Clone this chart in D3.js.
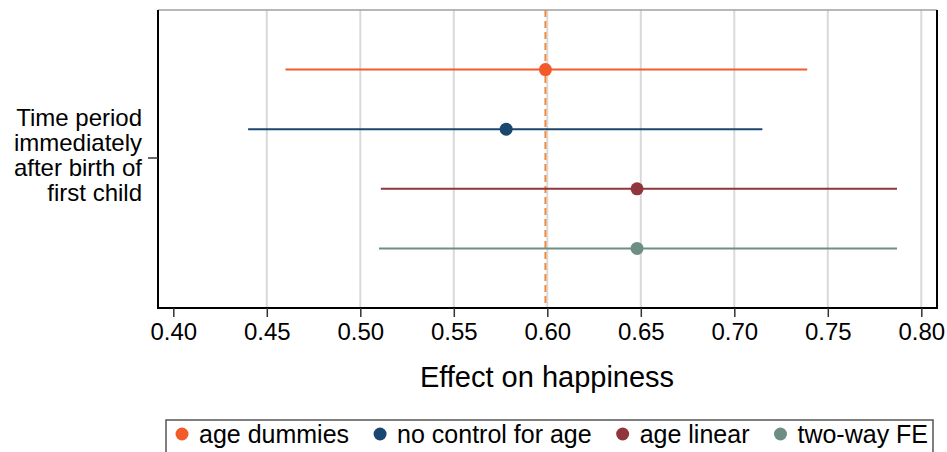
<!DOCTYPE html>
<html>
<head>
<meta charset="utf-8">
<script src="https://cdn.jsdelivr.net/npm/d3@7"></script>
<style>
  html, body { margin: 0; padding: 0; background: #fff; }
  svg { display: block; font-family: "Liberation Sans", Arial, Helvetica, sans-serif; }
</style>
</head>
<body>
<svg id="chart" width="947" height="452"></svg>
<script>
// Estimates with confidence intervals for each model specification
const seriesNames = ["age dummies", "no control for age", "age linear", "two-way FE"];
const estimates   = [0.599, 0.578, 0.648, 0.648];
const lowerBounds = [0.460, 0.440, 0.511, 0.510];
const upperBounds = [0.739, 0.715, 0.787, 0.787];
const seriesColors = ["#f25a2a", "#1a476f", "#90353b", "#6e8e84"];
const xTickValues = [0.40, 0.45, 0.50, 0.55, 0.60, 0.65, 0.70, 0.75, 0.80];
const yLabelLines = ["Time period", "immediately", "after birth of", "first child"];
const xTitle = "Effect on happiness";
const refValue = estimates[0];

const svg = d3.select("#chart");

// plot frame
const frame = { left: 158, right: 937, top: 10, bottom: 308 };

const x = d3.scaleLinear().domain([0.40, 0.80]).range([173.3, 921.3]);
const y = d3.scalePoint().domain(seriesNames).range([frame.top, frame.bottom]).padding(1);

// gridlines (none at the first tick, which sits next to the axis)
svg.append("g")
  .selectAll("line")
  .data(xTickValues.slice(1))
  .join("line")
  .attr("x1", d => x(d)).attr("x2", d => x(d))
  .attr("y1", frame.top).attr("y2", frame.bottom)
  .attr("stroke", "#d9d9d9")
  .attr("stroke-width", 2);

// reference line at the baseline estimate
svg.append("line")
  .attr("x1", x(refValue)).attr("x2", x(refValue))
  .attr("y1", frame.top).attr("y2", frame.bottom)
  .attr("stroke", "#f08a3c")
  .attr("stroke-width", 2)
  .attr("stroke-dasharray", "7,4");

// confidence intervals
svg.append("g")
  .selectAll("line")
  .data(seriesNames)
  .join("line")
  .attr("x1", (d, i) => x(lowerBounds[i]))
  .attr("x2", (d, i) => x(upperBounds[i]))
  .attr("y1", d => y(d)).attr("y2", d => y(d))
  .attr("stroke", (d, i) => seriesColors[i])
  .attr("stroke-width", 2);

// point estimates
svg.append("g")
  .selectAll("circle")
  .data(seriesNames)
  .join("circle")
  .attr("cx", (d, i) => x(estimates[i]))
  .attr("cy", d => y(d))
  .attr("r", 6.5)
  .attr("fill", (d, i) => seriesColors[i]);

// frame edges
svg.append("line").attr("x1", frame.left).attr("x2", frame.right)
  .attr("y1", frame.top).attr("y2", frame.top)
  .attr("stroke", "#a0a0a0").attr("stroke-width", 1.5);
svg.append("path")
  .attr("d", `M${frame.left},${frame.top}V${frame.bottom}H${frame.right}V${frame.top}`)
  .attr("fill", "none").attr("stroke", "#000").attr("stroke-width", 2);

// x axis
const xAxis = d3.axisBottom(x)
  .tickValues(xTickValues)
  .tickFormat(d3.format(".2f"))
  .tickSize(9)
  .tickPadding(6);
const gx = svg.append("g")
  .attr("transform", `translate(0,${frame.bottom})`)
  .call(xAxis);
gx.select(".domain").remove();
gx.selectAll(".tick line").attr("stroke", "#333").attr("stroke-width", 1.5);
gx.selectAll(".tick text")
  .attr("font-size", 24)
  .attr("fill", "#000")
  .attr("font-family", "Liberation Sans, Arial, sans-serif");

// y tick at the category centre
const yMid = 158;
svg.append("line")
  .attr("x1", frame.left - 10).attr("x2", frame.left)
  .attr("y1", yMid).attr("y2", yMid)
  .attr("stroke", "#333").attr("stroke-width", 1.5);

const yLab = svg.append("text")
  .attr("text-anchor", "end")
  .attr("font-size", 24)
  .attr("fill", "#000");
yLab.selectAll("tspan")
  .data(yLabelLines)
  .join("tspan")
  .attr("x", 142)
  .attr("y", (d, i) => yMid - 40 + i * 25)
  .attr("dy", "0.35em")
  .text(d => d);

// x axis title
svg.append("text")
  .attr("x", 547)
  .attr("y", 377)
  .attr("dy", "0.35em")
  .attr("text-anchor", "middle")
  .attr("font-size", 29)
  .attr("fill", "#000")
  .text(xTitle);

// legend
const legend = svg.append("g");
legend.append("rect")
  .attr("x", 166).attr("y", 420)
  .attr("width", 767).attr("height", 60)
  .attr("fill", "#fff")
  .attr("stroke", "#555")
  .attr("stroke-width", 1.5);

let cursor = 182;
seriesNames.forEach((name, i) => {
  legend.append("circle")
    .attr("cx", cursor).attr("cy", 434)
    .attr("r", 6.5)
    .attr("fill", seriesColors[i]);
  const t = legend.append("text")
    .attr("x", cursor + 17).attr("y", 434)
    .attr("dy", "0.35em")
    .attr("font-size", 25)
    .attr("fill", "#000")
    .text(name);
  cursor += 17 + t.node().getComputedTextLength() + 31;
});
</script>
</body>
</html>
